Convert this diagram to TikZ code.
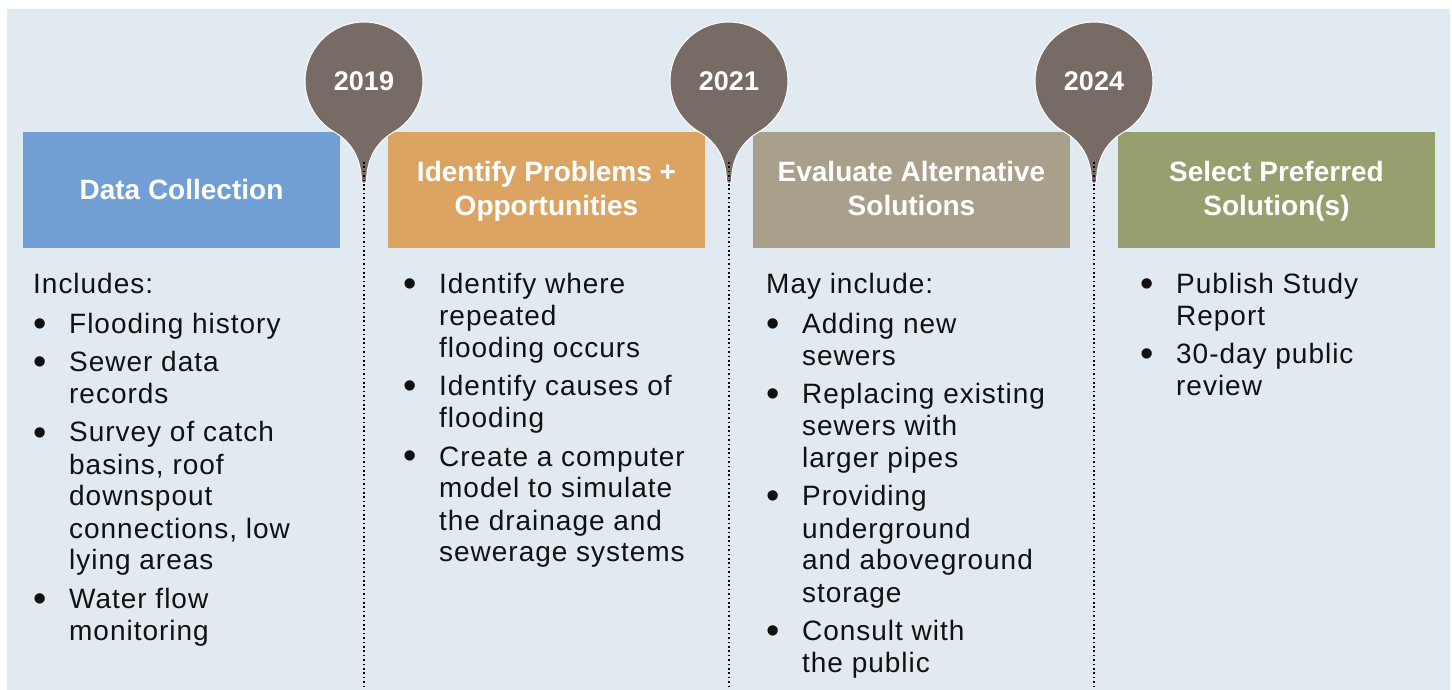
\documentclass[tikz,border=0pt]{standalone}
\usepackage{fontspec}
\setmainfont{Liberation Sans}
\newfontfamily\bodyfont{Liberation Sans}[LetterSpace=3.5]
\definecolor{panel}{HTML}{E1E9F1}
\definecolor{stageblue}{HTML}{729FD3}
\definecolor{stageorange}{HTML}{DBA462}
\definecolor{stagetaupe}{HTML}{A9A08B}
\definecolor{stagegreen}{HTML}{979F6F}
\definecolor{pinbrown}{HTML}{776B66}
\definecolor{bodytext}{HTML}{111111}

\tikzset{
  % the text box is given a fixed height and depth so every title sits on the same baselines
  stagebox/.style={rectangle, inner sep=0pt, minimum width=317pt, minimum height=116pt,
    text=white, text height=26pt, text depth=42pt,
    font=\fontsize{28}{34}\selectfont\bfseries},
  oneline/.style={text depth=6pt},
  yearlabel/.style={inner sep=0pt, text=white, font=\fontsize{27}{32}\selectfont\bfseries},
  pinbody/.style={fill=pinbrown, draw=white, line width=1pt},
  guide/.style={draw=black, line width=1.8pt, dash pattern=on 1.6pt off 2.8pt},
  itemlist/.style={anchor=base west, inner sep=0pt, text=bodytext,
    font=\bodyfont\fontsize{28}{32}\selectfont},
}
\newcommand{\bul}{\makebox[36pt][l]{\raisebox{-3pt}{\fontsize{38}{32}\selectfont\textbullet}}}
\newcommand{\titlelines}[1]{\begin{tabular}[t]{@{}c@{}}#1\end{tabular}}

\begin{document}
\begin{tikzpicture}[x=1pt, y=-1pt]
  \useasboundingbox (0,0) rectangle (1452,690);
  \fill[white] (0,0) rectangle (1452,690);
  \fill[panel] (7,9) rectangle (1450,690);

  % stage headers
  \node[stagebox, oneline, fill=stageblue] (s1) at (181.5,190) {\titlelines{Data Collection}};
  \node[stagebox, fill=stageorange] (s2) at (546.5,190) {\titlelines{Identify Problems +\\Opportunities}};
  \node[stagebox, fill=stagetaupe]  (s3) at (911.5,190) {\titlelines{Evaluate Alternative\\Solutions}};
  \node[stagebox, fill=stagegreen]  (s4) at (1276.5,190) {\titlelines{Select Preferred\\Solution(s)}};

  % year markers with dotted guides
  \foreach \px/\yr/\nm in {364/2019/a, 729/2021/b, 1094/2024/c} {
    \coordinate (pin\nm) at (\px,81);
    \coordinate (tip\nm) at (\px,162);
    \coordinate (foot\nm) at (\px,690);
    \begin{scope}[shift={(pin\nm)}]
      \filldraw[pinbody] (60:59) arc[start angle=60, end angle=-240, radius=59]
        .. controls +(12,7) and (-3,72) .. (-2.5,100)
        arc[start angle=180, end angle=0, radius=2.5]
        .. controls (3,72) and (17.5,58.1) .. (60:59) -- cycle;
    \end{scope}
    \node[yearlabel] (year\nm) at (pin\nm) {\yr};
    \draw[guide] (tip\nm) -- (foot\nm);
  }

  % stage contents
  \node[itemlist] (l1) at (33,293) {%
    \begin{tabular}[t]{@{}l@{}l@{}}
      \multicolumn{2}{@{}l@{}}{Includes:}\\[8pt]
      \bul & Flooding history\\[6.5pt]
      \bul & Sewer data\\
           & records\\[6.5pt]
      \bul & Survey of catch\\
           & basins, roof\\
           & downspout\\
           & connections, low\\
           & lying areas\\[6.5pt]
      \bul & Water flow\\
           & monitoring
    \end{tabular}};

  \node[itemlist] (l2) at (403,293) {%
    \begin{tabular}[t]{@{}l@{}l@{}}
      \bul & Identify where\\
           & repeated\\
           & flooding occurs\\[6.5pt]
      \bul & Identify causes of\\
           & flooding\\[6.5pt]
      \bul & Create a computer\\
           & model to simulate\\
           & the drainage and\\
           & sewerage systems
    \end{tabular}};

  \node[itemlist] (l3) at (766,293) {%
    \begin{tabular}[t]{@{}l@{}l@{}}
      \multicolumn{2}{@{}l@{}}{May include:}\\[8pt]
      \bul & Adding new\\
           & sewers\\[6.5pt]
      \bul & Replacing existing\\
           & sewers with\\
           & larger pipes\\[6.5pt]
      \bul & Providing\\
           & underground\\
           & and aboveground\\
           & storage\\[6.5pt]
      \bul & Consult with\\
           & the public
    \end{tabular}};

  \node[itemlist] (l4) at (1140,293) {%
    \begin{tabular}[t]{@{}l@{}l@{}}
      \bul & Publish Study\\
           & Report\\[6.5pt]
      \bul & 30-day public\\
           & review
    \end{tabular}};
\end{tikzpicture}
\end{document}
